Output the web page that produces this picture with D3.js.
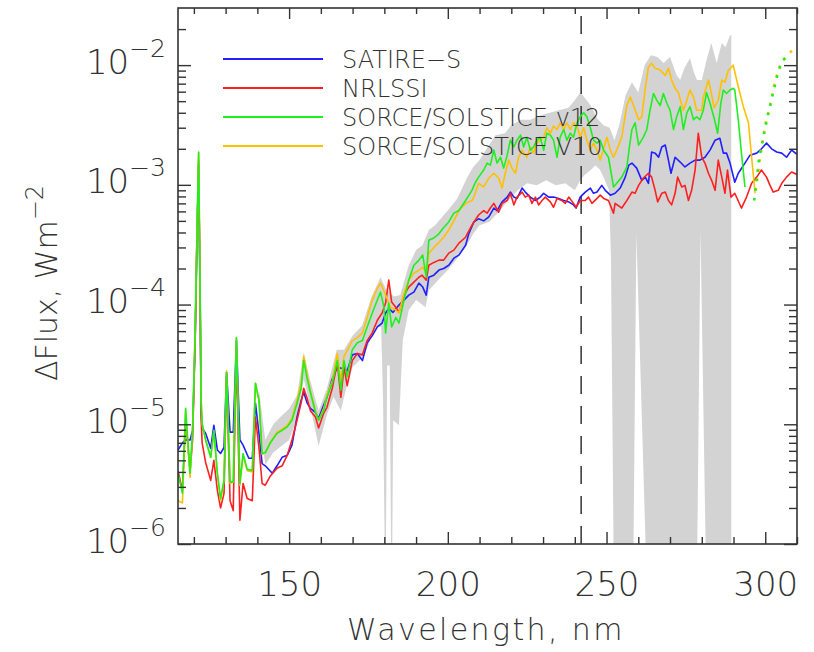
<!DOCTYPE html>
<html>
<head>
<meta charset="utf-8">
<script src="https://cdn.jsdelivr.net/npm/d3@7"></script>
<style>
  body { margin: 0; background: #fff; }
  text { font-family: "DejaVu Sans", sans-serif; font-weight: 200; fill: #333; }
</style>
</head>
<body>
<div id="chart"></div>
<script>
// axis ranges and ticks
const wlDomain = [115, 310];
const fluxDomain = [1e-6, 3e-2];
const xMajor = [150, 200, 250, 300];
const xMinor = [120, 130, 140, 160, 170, 180, 190, 210, 220, 230, 240, 260, 270, 280, 290, 310];
const yMajor = [1e-6, 1e-5, 1e-4, 1e-3, 1e-2];
const dashWl = 242;

// [wavelength nm, delta flux W m^-2]
const satireS = [[115,6.1e-6],[116.4,7.0e-6],[117.4,7.4e-6],[118.8,7.4e-6],[119.6,8.9e-6],[120.4,5.0e-5],[121.0,3.8e-4],[121.5,1.46e-3],[122.0,9.0e-5],[122.3,1.3e-5],[122.6,9.3e-6],[123.7,8.4e-6],[125.3,6.3e-6],[126.3,9.8e-6],[127.4,6.1e-6],[128.4,5.7e-6],[129.5,6.4e-6],[130.3,2.7e-5],[131.4,8.6e-6],[132.4,8.6e-6],[133.4,5.0e-5],[134.5,7.4e-6],[135.5,6.7e-6],[137.3,5.2e-6],[138.4,5.2e-6],[139.4,1.5e-5],[140.5,8.4e-6],[141.5,4.7e-6],[142.5,4.5e-6],[144.7,3.9e-6],[146.2,4.5e-6],[147.8,5.3e-6],[149.4,5.5e-6],[150.9,6.7e-6],[152.5,1.15e-5],[153.8,1.59e-5],[154.6,1.85e-5],[155.7,1.5e-5],[156.7,1.36e-5],[158.3,1.26e-5],[159.3,1.12e-5],[160.9,1.45e-5],[161.9,1.68e-5],[163.6,2.4e-5],[165.2,3.0e-5],[167.3,2.9e-5],[168.3,2.8e-5],[169.9,3.8e-5],[171.5,3.9e-5],[173.1,3.4e-5],[174.6,4.8e-5],[176.2,5.5e-5],[177.8,6.5e-5],[179.3,7.0e-5],[180.4,8.5e-5],[181.4,9.3e-5],[182.7,8.6e-5],[184.6,9.9e-5],[186.2,1.09e-4],[187.7,1.2e-4],[189.3,1.27e-4],[190.9,1.51e-4],[192.1,1.4e-4],[193.2,1.2e-4],[194.0,1.69e-4],[195.6,1.76e-4],[197.2,1.94e-4],[198.7,2.0e-4],[200.3,2.13e-4],[201.9,2.44e-4],[203.5,2.59e-4],[205.6,3.13e-4],[206.6,3.9e-4],[208.2,4.9e-4],[209.7,5.2e-4],[211.3,5.0e-4],[212.9,5.4e-4],[214.5,6.4e-4],[215.5,6.1e-4],[217.1,7.2e-4],[218.7,7.9e-4],[219.7,8.7e-4],[220.8,7.9e-4],[221.8,7.7e-4],[223.4,9.4e-4],[224.4,8.7e-4],[226.0,7.9e-4],[227.6,7.4e-4],[229.1,7.9e-4],[230.2,8.5e-4],[231.8,7.9e-4],[233.3,7.9e-4],[234.9,7.7e-4],[236.5,7.4e-4],[238.1,7.2e-4],[239.6,6.8e-4],[240.4,6.4e-4],[241.7,7.9e-4],[243.3,8.7e-4],[244.9,9.4e-4],[245.9,8.5e-4],[247.0,8.7e-4],[248.5,9.9e-4],[249.6,9.0e-4],[251.2,8.2e-4],[252.7,8.5e-4],[254.3,9.4e-4],[255.9,1.16e-3],[257.0,1.46e-3],[258.0,1.52e-3],[259.5,1.38e-3],[261.1,1.09e-3],[262.2,1.16e-3],[263.2,1.03e-3],[264.2,1.88e-3],[265.3,1.84e-3],[266.4,1.7e-3],[267.4,2.07e-3],[268.5,2.15e-3],[269.5,1.61e-3],[270.3,1.25e-3],[271.6,1.7e-3],[273.2,1.55e-3],[274.7,1.41e-3],[276.3,1.52e-3],[277.9,1.61e-3],[279.4,1.61e-3],[281.0,1.7e-3],[282.6,1.95e-3],[284.2,2.36e-3],[285.7,2.45e-3],[286.8,1.84e-3],[287.8,1.84e-3],[288.9,1.52e-3],[290.4,1.05e-3],[291.5,1.25e-3],[293.6,1.52e-3],[295.2,1.77e-3],[297.3,1.84e-3],[298.8,2.0e-3],[300.4,2.23e-3],[302.0,2.0e-3],[303.6,1.88e-3],[305.2,1.84e-3],[306.7,1.7e-3],[308.3,1.95e-3],[310,1.8e-3]];

const nrlssi = [[115,4.1e-6],[116.4,2.8e-6],[117.4,1.08e-5],[118.8,4.1e-6],[119.6,7.4e-6],[120.4,5.0e-5],[121.0,3.8e-4],[121.5,1.6e-3],[122.0,9.0e-5],[122.3,1.08e-5],[122.6,7.0e-6],[123.7,4.8e-6],[125.3,3.4e-6],[126.3,5.0e-6],[127.4,2.8e-6],[128.4,2.0e-6],[129.5,2.65e-6],[130.3,2.5e-5],[131.4,2.3e-6],[132.4,1.9e-6],[133.4,4.4e-5],[134.5,1.58e-6],[135.5,3.2e-6],[136.8,2.4e-6],[138.4,2.3e-6],[139.4,1.15e-5],[140.5,6.4e-6],[141.5,3.2e-6],[142.5,3.1e-6],[144.1,3.7e-6],[146.2,4.3e-6],[147.8,4.5e-6],[149.4,5.5e-6],[150.9,7.4e-6],[152.5,1.08e-5],[153.8,1.52e-5],[154.6,2.0e-5],[155.7,1.64e-5],[156.7,1.3e-5],[158.3,1.15e-5],[159.3,9.3e-6],[160.9,1.24e-5],[161.9,1.38e-5],[163.6,2.0e-5],[165.2,3.3e-5],[166.3,1.68e-5],[167.3,3.0e-5],[168.3,2.1e-5],[169.9,3.4e-5],[171.5,3.9e-5],[173.1,3.8e-5],[174.6,5.0e-5],[176.2,5.8e-5],[177.8,7.4e-5],[179.3,8.5e-5],[180.4,1.03e-4],[181.4,1.6e-4],[182.3,1.05e-4],[183.6,9.5e-5],[184.6,8.6e-5],[186.2,1.2e-4],[187.7,1.4e-4],[189.3,1.54e-4],[190.9,1.69e-4],[191.9,1.76e-4],[193.2,1.6e-4],[194.0,2.13e-4],[195.6,2.25e-4],[197.2,2.35e-4],[198.7,2.35e-4],[200.3,2.69e-4],[201.9,2.85e-4],[203.5,3.26e-4],[205.6,3.65e-4],[207.6,4.6e-4],[209.7,5.6e-4],[211.3,6.1e-4],[212.4,5.8e-4],[213.4,6.4e-4],[214.5,7.0e-4],[216.0,5.9e-4],[217.1,7.0e-4],[218.7,7.4e-4],[219.7,8.5e-4],[220.8,6.8e-4],[221.8,7.9e-4],[223.4,8.7e-4],[224.4,7.9e-4],[225.5,8.2e-4],[226.5,7.0e-4],[227.6,7.9e-4],[228.6,6.8e-4],[229.7,7.4e-4],[230.7,7.9e-4],[232.3,7.2e-4],[233.3,6.5e-4],[234.4,7.7e-4],[235.9,7.4e-4],[237.0,7.0e-4],[238.1,7.9e-4],[239.6,7.0e-4],[240.4,6.5e-4],[241.7,7.4e-4],[243.3,7.4e-4],[244.3,7.9e-4],[245.4,7.0e-4],[247.0,7.7e-4],[248.0,8.2e-4],[249.1,7.7e-4],[250.6,7.4e-4],[252.2,5.8e-4],[252.7,7.0e-4],[254.8,6.4e-4],[256.4,7.4e-4],[258.0,8.7e-4],[259.0,8.5e-4],[260.1,9.9e-4],[261.6,1.14e-3],[263.2,1.25e-3],[264.2,1.16e-3],[265.3,9.0e-4],[266.1,7.2e-4],[267.4,8.5e-4],[268.5,8.7e-4],[269.5,7.4e-4],[270.5,6.8e-4],[271.6,8.5e-4],[272.4,1.16e-3],[273.7,9.6e-4],[274.7,9.9e-4],[275.8,7.4e-4],[276.8,9.0e-4],[277.9,1.33e-3],[278.9,2.7e-3],[280.0,1.7e-3],[281.0,1.52e-3],[282.1,1.25e-3],[283.1,1.09e-3],[284.2,9.0e-4],[285.2,1.61e-3],[286.3,1.16e-3],[287.3,8.5e-4],[288.1,1.33e-3],[289.2,7.9e-4],[290.4,8.5e-4],[292.5,6.4e-4],[294.1,7.9e-4],[295.7,1.03e-3],[297.3,1.16e-3],[298.8,1.33e-3],[300.4,1.16e-3],[301.5,9.9e-4],[302.5,8.7e-4],[304.1,9.0e-4],[305.2,1.03e-3],[306.7,1.16e-3],[308.3,1.28e-3],[310,1.22e-3]];

const solsticeV12 = [[115,3.9e-6],[116.4,2.65e-6],[117.4,1.36e-5],[118.8,3.9e-6],[119.6,8.9e-6],[120.4,6.1e-5],[121.0,4.2e-4],[121.5,1.88e-3],[122.0,1.09e-4],[122.3,1.59e-5],[122.6,1.02e-5],[123.7,7.4e-6],[125.3,5.3e-6],[126.3,8.9e-6],[127.4,3.9e-6],[128.4,2.4e-6],[129.5,3.4e-6],[130.3,2.7e-5],[131.4,3.3e-6],[132.4,3.3e-6],[133.4,5.3e-5],[134.5,3.2e-6],[135.5,5.7e-6],[136.8,4.2e-6],[138.4,4.1e-6],[139.4,2.2e-5],[140.5,1.59e-5],[141.5,5.7e-6],[142.5,5.8e-6],[144.1,7.0e-6],[146.2,8.4e-6],[147.8,8.9e-6],[149.4,9.5e-6],[150.9,1.08e-5],[152.5,1.5e-5],[153.8,2.0e-5],[154.6,3.4e-5],[155.7,2.4e-5],[156.7,1.85e-5],[158.3,1.26e-5],[159.3,1.08e-5],[160.9,1.3e-5],[161.9,1.68e-5],[163.6,2.2e-5],[165.2,3.4e-5],[166.3,1.93e-5],[167.3,3.4e-5],[168.3,2.5e-5],[169.9,4.2e-5],[171.5,4.8e-5],[173.1,5.0e-5],[174.6,6.5e-5],[176.2,8.5e-5],[177.8,1.09e-4],[178.8,1.27e-4],[179.9,9.5e-5],[180.4,5.8e-5],[181.4,1.03e-4],[182.3,6.5e-5],[183.6,7.8e-5],[184.6,7.0e-5],[186.2,1.09e-4],[187.7,1.6e-4],[189.3,2.13e-4],[190.9,2.35e-4],[192.1,2.59e-4],[193.2,1.69e-4],[194.0,3.45e-4],[195.6,3.6e-4],[197.2,3.9e-4],[198.7,4.4e-4],[200.3,4.9e-4],[201.9,5.8e-4],[203.5,6.1e-4],[205.6,7.4e-4],[207.6,9.0e-4],[208.7,1.05e-3],[209.7,1.16e-3],[211.3,1.33e-3],[212.4,1.52e-3],[213.4,1.46e-3],[214.5,1.95e-3],[215.5,1.52e-3],[216.6,1.7e-3],[217.6,1.38e-3],[218.7,1.77e-3],[219.7,2.36e-3],[220.8,2.07e-3],[221.8,2.36e-3],[222.9,2.6e-3],[223.9,2.07e-3],[224.9,2.5e-3],[226.0,1.95e-3],[227.0,2.07e-3],[228.1,2.36e-3],[229.1,2.5e-3],[230.2,1.95e-3],[231.2,2.7e-3],[232.3,2.6e-3],[233.3,2.36e-3],[234.4,1.7e-3],[235.4,2.5e-3],[236.5,2.9e-3],[237.5,2.36e-3],[238.6,2.7e-3],[239.6,2.5e-3],[240.7,3.3e-3],[241.7,3.7e-3],[242.8,4.0e-3],[243.8,3.7e-3],[244.9,3.0e-3],[245.9,2.36e-3],[247.0,2.23e-3],[248.0,2.36e-3],[249.1,1.95e-3],[250.6,1.7e-3],[252.2,9.6e-4],[253.2,1.03e-3],[254.8,1.16e-3],[256.4,1.41e-3],[257.2,2.07e-3],[258.0,2.9e-3],[259.0,3.3e-3],[260.1,2.15e-3],[261.6,2.5e-3],[262.7,2.9e-3],[263.7,4.2e-3],[264.8,5.8e-3],[265.8,5.1e-3],[266.9,4.6e-3],[267.9,5.8e-3],[269.0,4.8e-3],[270.0,4.2e-3],[271.1,2.9e-3],[272.1,3.7e-3],[273.2,4.5e-3],[274.2,2.9e-3],[275.3,4.0e-3],[276.3,4.5e-3],[277.4,3.5e-3],[278.4,3.7e-3],[279.4,3.5e-3],[280.5,4.2e-3],[281.5,5.9e-3],[282.6,4.8e-3],[283.9,3.6e-3],[285.0,2.7e-3],[286.0,4.8e-3],[286.8,6.2e-3],[287.8,5.8e-3],[288.9,6.2e-3],[289.9,6.4e-3],[290.4,6.2e-3],[291.5,3.5e-3],[292.5,1.84e-3],[293.6,9.6e-4]];

const solsticeV10 = [[115,2.3e-6],[116.4,2.2e-6],[117.4,1.3e-5],[118.8,3.6e-6],[119.6,8.9e-6],[120.4,6.1e-5],[121.0,4.2e-4],[121.5,1.85e-3],[122.0,1.09e-4],[122.3,1.59e-5],[122.6,1.0e-5],[123.7,7.4e-6],[125.3,5.3e-6],[126.3,8.7e-6],[127.4,3.9e-6],[128.4,2.3e-6],[129.5,3.4e-6],[130.3,2.8e-5],[131.4,3.2e-6],[132.4,3.3e-6],[133.4,5.2e-5],[134.5,3.1e-6],[135.5,5.5e-6],[136.8,4.1e-6],[138.4,4.0e-6],[139.4,2.2e-5],[140.5,1.6e-5],[141.5,5.6e-6],[142.5,5.8e-6],[144.1,7.1e-6],[146.2,8.6e-6],[147.8,9.1e-6],[149.4,9.8e-6],[150.9,1.12e-5],[152.5,1.6e-5],[153.8,2.2e-5],[154.6,3.7e-5],[155.7,2.6e-5],[156.7,1.9e-5],[158.3,1.3e-5],[159.3,1.08e-5],[160.9,1.35e-5],[161.9,1.75e-5],[163.6,2.3e-5],[165.2,3.9e-5],[166.3,2.3e-5],[167.3,3.7e-5],[169.0,4.5e-5],[169.9,5.0e-5],[171.5,5.3e-5],[173.1,5.8e-5],[174.6,7.8e-5],[176.2,1.09e-4],[177.8,1.37e-4],[178.8,1.51e-4],[179.9,1.3e-4],[180.7,1.15e-4],[181.9,9.5e-5],[183.6,9.0e-5],[184.6,8.5e-5],[186.2,1.24e-4],[187.7,1.6e-4],[189.3,1.83e-4],[190.9,1.94e-4],[192.1,2.05e-4],[193.2,1.83e-4],[194.0,2.69e-4],[195.6,3.0e-4],[197.2,3.3e-4],[198.7,3.65e-4],[200.3,4.2e-4],[201.9,5.0e-4],[203.5,6.1e-4],[205.6,7.0e-4],[207.6,7.4e-4],[208.2,7.9e-4],[209.7,1.03e-3],[211.3,9.6e-4],[212.9,1.14e-3],[214.5,1.25e-3],[216.0,1.14e-3],[217.1,9.4e-4],[218.1,1.25e-3],[219.2,1.61e-3],[220.2,1.38e-3],[221.3,1.25e-3],[222.3,1.7e-3],[223.4,1.95e-3],[224.9,1.7e-3],[226.0,2.07e-3],[227.0,1.84e-3],[228.1,2.23e-3],[229.1,2.36e-3],[230.2,2.5e-3],[231.2,3.0e-3],[232.3,2.7e-3],[233.3,3.1e-3],[234.4,2.9e-3],[235.4,3.3e-3],[236.5,2.9e-3],[237.5,3.3e-3],[238.6,2.9e-3],[239.6,3.3e-3],[240.7,3.1e-3],[241.7,2.5e-3],[242.8,3.0e-3],[243.8,2.36e-3],[244.9,1.95e-3],[245.9,2.23e-3],[247.0,1.95e-3],[248.0,1.61e-3],[249.1,2.0e-3],[250.1,2.5e-3],[251.2,1.95e-3],[252.2,1.7e-3],[253.2,1.95e-3],[254.8,2.5e-3],[256.4,4.6e-3],[257.5,5.4e-3],[258.5,4.6e-3],[260.1,3.5e-3],[261.1,3.7e-3],[262.2,6.4e-3],[263.2,9.6e-3],[264.2,1.04e-2],[265.3,9.4e-3],[266.9,9.1e-3],[268.5,8.2e-3],[269.5,9.4e-3],[270.5,7.5e-3],[271.6,6.4e-3],[272.6,5.9e-3],[274.2,4.2e-3],[275.3,5.1e-3],[276.3,6.2e-3],[277.4,5.4e-3],[278.4,4.2e-3],[280.0,4.2e-3],[280.5,5.4e-3],[282.1,7.5e-3],[282.6,6.6e-3],[283.9,4.4e-3],[285.2,5.1e-3],[286.3,7.5e-3],[287.3,7.2e-3],[288.4,9.1e-3],[289.4,9.6e-3],[289.9,1.0e-2],[291.5,6.6e-3],[293.1,4.5e-3],[294.7,3.3e-3],[295.7,1.7e-3],[296.8,8.5e-4]];

// dotted continuations beyond ~296 nm
const v12Dotted = [[296.5,7.4e-4],[298,1.61e-3],[299.5,2.6e-3],[301,4.0e-3],[302.5,5.9e-3],[304,8.7e-3],[305.5,1.1e-2],[306.5,1.15e-2]];
const v10Dotted = [[297,9.0e-4],[298.5,1.77e-3],[300,3.2e-3],[301.5,4.6e-3],[303,7.2e-3],[305,1.06e-2],[307,1.2e-2],[308.5,1.33e-2]];

// grey uncertainty band
const bandUpper = [[140.5,1.93e-5],[142.5,7.4e-6],[145,1.0e-5],[148,1.2e-5],[150,1.35e-5],[152.5,1.75e-5],[154.6,4.0e-5],[156.7,2.3e-5],[159.3,1.3e-5],[161.9,2.0e-5],[165,4.2e-5],[167.3,4.2e-5],[170,5.5e-5],[173,6.7e-5],[176,1.17e-4],[178.8,1.69e-4],[180.4,1.37e-4],[183,1.17e-4],[185,1.2e-4],[187.7,2.13e-4],[190,2.85e-4],[192,3.13e-4],[194,4.2e-4],[196,4.6e-4],[198,5.3e-4],[200,6.1e-4],[203,7.7e-4],[206,1.14e-3],[208,1.41e-3],[210,1.61e-3],[212,1.95e-3],[215,2.6e-3],[218,2.7e-3],[220,3.15e-3],[223,3.5e-3],[226,3.5e-3],[229,3.8e-3],[232,4.0e-3],[235,4.2e-3],[238,4.4e-3],[240,5.1e-3],[241.7,5.9e-3],[243,5.4e-3],[245,4.6e-3],[247,3.6e-3],[249,3.15e-3],[251,3.0e-3],[252.5,2.36e-3],[254,3.15e-3],[256,5.6e-3],[258,7.2e-3],[260,5.9e-3],[262,1.0e-2],[264,1.21e-2],[266,1.17e-2],[268,1.04e-2],[270,1.17e-2],[272,8.3e-3],[273.2,7.5e-3],[274.5,9.4e-3],[276.3,1.14e-2],[277.5,8.7e-3],[278.5,7.5e-3],[280,7.5e-3],[281.5,1.1e-2],[283,1.53e-2],[284.7,1.04e-2],[286.3,1.53e-2],[287.5,1.41e-2],[288.9,1.78e-2],[289.3,1.78e-2]];
const bandLower = [[140.5,1.1e-5],[142.5,4.6e-6],[145,5.8e-6],[148,6.7e-6],[150,7.4e-6],[152.5,1.1e-5],[154.6,2.4e-5],[156.7,1.4e-5],[159.3,6.6e-6],[161.9,1.2e-5],[164,1.7e-5],[166.3,1.3e-5],[168,2.0e-5],[170,3.0e-5],[173,3.6e-5],[175,4.6e-5],[177,6.5e-5],[179.0,6.5e-5],[179.6,1.59e-5],[180.1,1e-6],[180.5,1e-6],[180.9,3.1e-5],[181.7,3.1e-5],[182.1,1e-6],[182.5,1e-6],[182.8,1.08e-5],[184.6,9.8e-6],[185.8,5.0e-5],[187.7,9.0e-5],[190,1.09e-4],[193,9.5e-5],[194,1.32e-4],[197,1.6e-4],[200,1.94e-4],[203,2.44e-4],[206,3.13e-4],[208,3.9e-4],[210,4.6e-4],[213,4.9e-4],[216,5.9e-4],[219,7.4e-4],[222,9.0e-4],[225,1.03e-3],[228,9.9e-4],[231,1.09e-3],[234,9.9e-4],[237,1.03e-3],[240,9.0e-4],[241.7,1.09e-3],[243,1.2e-3],[245,1.33e-3],[246.5,1.46e-3],[248,1.33e-3],[249.5,1.09e-3],[250.8,9.0e-4],[251.4,2.35e-4],[252.2,1e-6],[258.5,1e-6],[259.4,3.9e-4],[262.3,1e-6],[278.6,1e-6],[279.6,4.2e-4],[281.2,1e-6],[289.3,1e-6]];

const series = [
  { label: "SATIRE\u2212S", data: satireS, color: "#1f1fff" },
  { label: "NRLSSI", data: nrlssi, color: "#ff1f1f" },
  { label: "SORCE/SOLSTICE v12", data: solsticeV12, color: "#1fef1f" },
  { label: "SORCE/SOLSTICE V10", data: solsticeV10, color: "#ffc000" }
];

const width = 814, height = 652;
const margin = { top: 8, right: 17, bottom: 108, left: 178 };
const x0 = margin.left, x1 = width - margin.right;
const y0 = height - margin.bottom, y1 = margin.top;

const svg = d3.select("#chart").append("svg")
  .attr("width", width)
  .attr("height", height);

const x = d3.scaleLinear().domain(wlDomain).range([x0, x1]);
const y = d3.scaleLog().domain(fluxDomain).range([y0, y1]);

svg.append("clipPath").attr("id", "plot-clip")
  .append("rect").attr("x", x0).attr("y", y1).attr("width", x1 - x0).attr("height", y0 - y1);

const plot = svg.append("g").attr("clip-path", "url(#plot-clip)");

const line = d3.line().x(d => x(d[0])).y(d => y(d[1]));

// grey band: upper edge then lower edge backwards
plot.append("path")
  .attr("d", line(bandUpper.concat(bandLower.slice().reverse())) + "Z")
  .attr("fill", "#d3d3d3")
  .attr("stroke", "none");

// vertical dashed line, dashes start at the bottom
plot.append("line")
  .attr("x1", x(dashWl)).attr("x2", x(dashWl))
  .attr("y1", y(fluxDomain[0])).attr("y2", y(fluxDomain[1]))
  .attr("stroke", "#333")
  .attr("stroke-width", 1.5)
  .attr("stroke-dasharray", "18,12");

// draw blue, red, orange, green so green ends on top
[series[0], series[1], series[3], series[2]].forEach(s => {
  plot.append("path")
    .attr("d", line(s.data))
    .attr("fill", "none")
    .attr("stroke", s.color)
    .attr("stroke-width", 1.6)
    .attr("stroke-linejoin", "round");
});

[[v10Dotted, series[3].color], [v12Dotted, series[2].color]].forEach(([d, c]) => {
  plot.append("path")
    .attr("d", line(d))
    .attr("fill", "none")
    .attr("stroke", c)
    .attr("stroke-width", 2.6)
    .attr("stroke-dasharray", "2.6,7");
});

// axes, ticks pointing inward
function styleAxis(g) {
  g.select(".domain").remove();
  g.selectAll(".tick line").attr("stroke", "#333").attr("stroke-width", 1.4);
  g.attr("font-family", null).attr("font-size", null);
}

const yMinor = [];
yMajor.forEach(p => { for (let k = 2; k <= 9; k++) if (p * k < fluxDomain[1]) yMinor.push(p * k); });

svg.append("g").attr("transform", `translate(0,${y0})`)
  .call(d3.axisBottom(x).tickValues(xMinor).tickSize(-7).tickFormat(""))
  .call(styleAxis);
svg.append("g").attr("transform", `translate(0,${y0})`)
  .call(d3.axisBottom(x).tickValues(xMajor).tickSize(-12).tickPadding(28).tickFormat(d3.format("d")))
  .call(styleAxis)
  .selectAll("text").attr("font-size", 34).attr("fill", "#333");

svg.append("g").attr("transform", `translate(0,${y1})`)
  .call(d3.axisTop(x).tickValues(xMinor).tickSize(-6).tickFormat(""))
  .call(styleAxis);
svg.append("g").attr("transform", `translate(0,${y1})`)
  .call(d3.axisTop(x).tickValues(xMajor).tickSize(-11).tickFormat(""))
  .call(styleAxis);

svg.append("g").attr("transform", `translate(${x0},0)`)
  .call(d3.axisLeft(y).tickValues(yMinor).tickSize(-8).tickFormat(""))
  .call(styleAxis);
svg.append("g").attr("transform", `translate(${x0},0)`)
  .call(d3.axisLeft(y).tickValues(yMajor).tickSize(-13).tickPadding(12).tickFormat(""))
  .call(styleAxis)
  .selectAll("text")
  .attr("font-size", 34)
  .attr("dy", null)
  .attr("y", 8)
  .each(function (d) {
    const t = d3.select(this);
    t.append("tspan").text("10");
    t.append("tspan").attr("font-size", 25).attr("dy", -17)
      .text("\u2212" + Math.round(-Math.log10(d)));
  });

svg.append("g").attr("transform", `translate(${x1},0)`)
  .call(d3.axisRight(y).tickValues(yMinor).tickSize(-8).tickFormat(""))
  .call(styleAxis);
svg.append("g").attr("transform", `translate(${x1},0)`)
  .call(d3.axisRight(y).tickValues(yMajor).tickSize(-13).tickFormat(""))
  .call(styleAxis);

// frame
svg.append("rect")
  .attr("x", x0).attr("y", y1)
  .attr("width", x1 - x0).attr("height", y0 - y1)
  .attr("fill", "none")
  .attr("stroke", "#333")
  .attr("stroke-width", 1.6);

// axis titles
svg.append("text")
  .attr("x", 486).attr("y", 640)
  .attr("text-anchor", "middle")
  .attr("font-size", 30)
  .attr("letter-spacing", 2.4)
  .text("Wavelength, nm");

const yTitle = svg.append("text")
  .attr("transform", "translate(57,283) rotate(-90)")
  .attr("text-anchor", "middle")
  .attr("font-size", 30);
yTitle.append("tspan").text("\u0394Flux, Wm");
yTitle.append("tspan").attr("font-size", 24).attr("dy", -14).text("\u22122");

// legend
const legend = svg.append("g");
series.forEach((s, i) => {
  const ly = 59 + i * 29;
  legend.append("line")
    .attr("x1", 223).attr("x2", 323)
    .attr("y1", ly).attr("y2", ly)
    .attr("stroke", s.color)
    .attr("stroke-width", 2);
  legend.append("text")
    .attr("x", 342).attr("y", ly)
    .attr("dy", "0.36em")
    .attr("font-size", 24)
    .text(s.label);
});
</script>
</body>
</html>
